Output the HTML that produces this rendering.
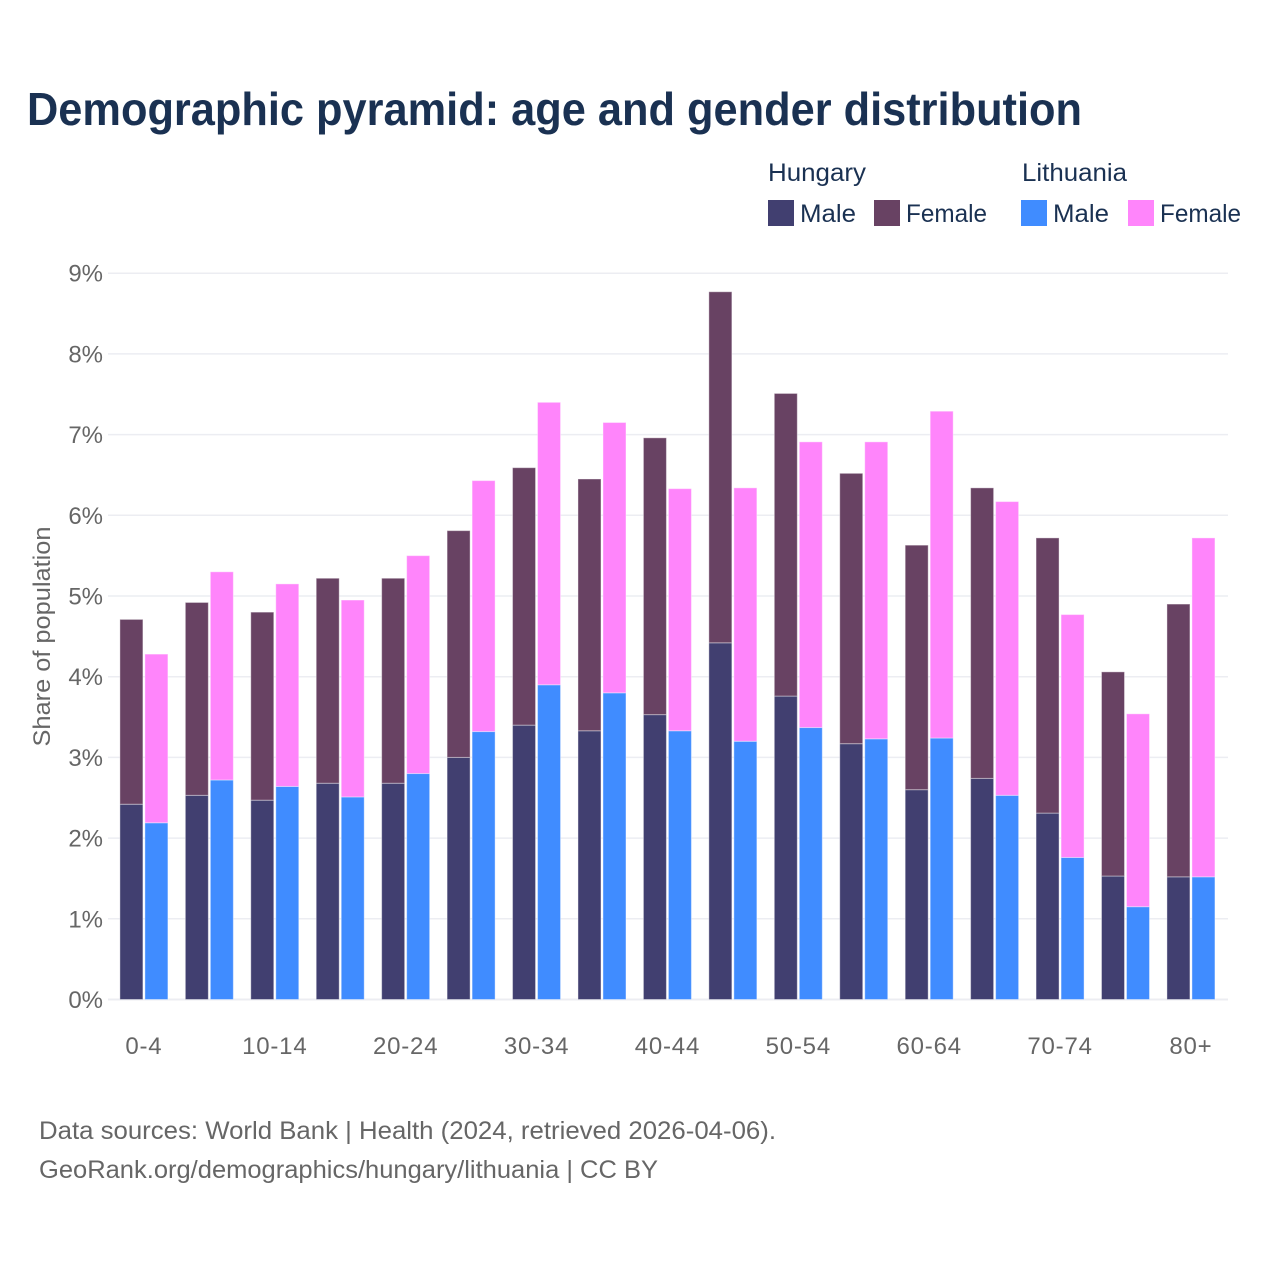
<!DOCTYPE html>
<html lang="en">
<head>
<meta charset="utf-8">
<title>Demographic pyramid</title>
<style>
html,body{margin:0;padding:0;background:#fff;}
svg{display:block;font-family:"Liberation Sans",sans-serif;}
</style>
</head>
<body>
<svg id="chart" xmlns="http://www.w3.org/2000/svg" width="1280" height="1280" viewBox="0 0 1280 1280">
  <rect x="0" y="0" width="1280" height="1280" fill="#ffffff"/>
  <text x="27" y="125" font-size="46" font-weight="700" fill="#1a3152" textLength="1055" lengthAdjust="spacingAndGlyphs">Demographic pyramid: age and gender distribution</text>

  <g font-size="25" fill="#1a3152">
    <text x="768" y="181" textLength="98" lengthAdjust="spacingAndGlyphs">Hungary</text>
    <text x="1022" y="181" textLength="105" lengthAdjust="spacingAndGlyphs">Lithuania</text>
    <rect x="768" y="200" width="26" height="26" fill="#413f70"/>
    <text x="800" y="222" textLength="56" lengthAdjust="spacingAndGlyphs">Male</text>
    <rect x="874" y="200" width="26" height="26" fill="#684263"/>
    <text x="906" y="222" textLength="81" lengthAdjust="spacingAndGlyphs">Female</text>
    <rect x="1021" y="200" width="26" height="26" fill="#408cff"/>
    <text x="1053" y="222" textLength="56" lengthAdjust="spacingAndGlyphs">Male</text>
    <rect x="1128" y="200" width="26" height="26" fill="#ff85fb"/>
    <text x="1160" y="222" textLength="81" lengthAdjust="spacingAndGlyphs">Female</text>
  </g>

  <g id="grid"></g>
  <g id="yticks"></g>
  <g id="bars"></g>
  <g id="xticks"></g>

  <text transform="translate(50,636.5) rotate(-90)" text-anchor="middle" font-size="24" fill="#666666" textLength="220" lengthAdjust="spacingAndGlyphs">Share of population</text>

  <text x="39" y="1139" font-size="25" fill="#666666" textLength="737" lengthAdjust="spacingAndGlyphs">Data sources: World Bank | Health (2024, retrieved 2026-04-06).</text>
  <text x="39" y="1178" font-size="25" fill="#666666" textLength="619" lengthAdjust="spacingAndGlyphs">GeoRank.org/demographics/hungary/lithuania | CC BY</text>
</svg>
<script>
const categories = ['0-4','5-9','10-14','15-19','20-24','25-29','30-34','35-39','40-44','45-49','50-54','55-59','60-64','65-69','70-74','75-79','80+'];
const hungaryMale = [2.42,2.53,2.47,2.68,2.68,3.00,3.40,3.33,3.53,4.42,3.76,3.17,2.60,2.74,2.31,1.53,1.52];
const hungaryFemale = [2.29,2.39,2.33,2.54,2.54,2.81,3.19,3.12,3.43,4.35,3.75,3.35,3.03,3.60,3.41,2.53,3.38];
const lithuaniaMale = [2.19,2.72,2.64,2.51,2.80,3.32,3.90,3.80,3.33,3.20,3.37,3.23,3.24,2.53,1.76,1.15,1.52];
const lithuaniaFemale = [2.09,2.58,2.51,2.44,2.70,3.11,3.50,3.35,3.00,3.14,3.54,3.68,4.05,3.64,3.01,2.39,4.20];
const yTickValues = [0,1,2,3,4,5,6,7,8,9];
const yTickLabels = ['0%','1%','2%','3%','4%','5%','6%','7%','8%','9%'];

const NS = 'http://www.w3.org/2000/svg';
function yScale(v) { return 999.5 - v * 80.7; }
function xScale(i) { return 143.9 + i * 65.44; }
const BAR_W = 23;

function make(tag, parent, props) {
  const el = document.createElementNS(NS, tag);
  for (const k in props) el.setAttribute(k, props[k]);
  parent.appendChild(el);
  return el;
}

const gridG = document.getElementById('grid');
const yG = document.getElementById('yticks');
yTickValues.forEach(function (v, i) {
  const line = make('line', gridG, {x1: 108, x2: 1228, y1: yScale(v), y2: yScale(v), stroke: '#ecedf2', 'stroke-width': v === 0 ? 2 : 1.5});
  
  
  const t = make('text', yG, {x: 103, y: yScale(v) + 8.5, 'text-anchor': 'end', 'font-size': 24, fill: '#666666'});
  t.textContent = yTickLabels[i];
  
  
});

const barsG = document.getElementById('bars');
function bar(parent, x, base, val, fill, name) {
  const top = yScale(base + val);
  const r = make('rect', parent, {x: x, y: top, width: BAR_W, height: yScale(base) - top, fill: fill, stroke: '#ffffff', 'stroke-opacity': 0.4, 'stroke-width': 1});
  
  
}
categories.forEach(function (c, i) {
  const cx = xScale(i);
  bar(barsG, cx - 24, 0, hungaryMale[i], '#413f70', 'bar-hungary-male-' + c);
  bar(barsG, cx - 24, hungaryMale[i], hungaryFemale[i], '#684263', 'bar-hungary-female-' + c);
  bar(barsG, cx + 1, 0, lithuaniaMale[i], '#408cff', 'bar-lithuania-male-' + c);
  bar(barsG, cx + 1, lithuaniaMale[i], lithuaniaFemale[i], '#ff85fb', 'bar-lithuania-female-' + c);
});

const xG = document.getElementById('xticks');
categories.forEach(function (c, i) {
  if (i % 2 !== 0) return;
  const t = make('text', xG, {x: xScale(i), y: 1054, 'text-anchor': 'middle', 'font-size': 24, 'letter-spacing': '0.8', fill: '#666666'});
  t.textContent = c;
  
  
});
</script>
</body>
</html>
